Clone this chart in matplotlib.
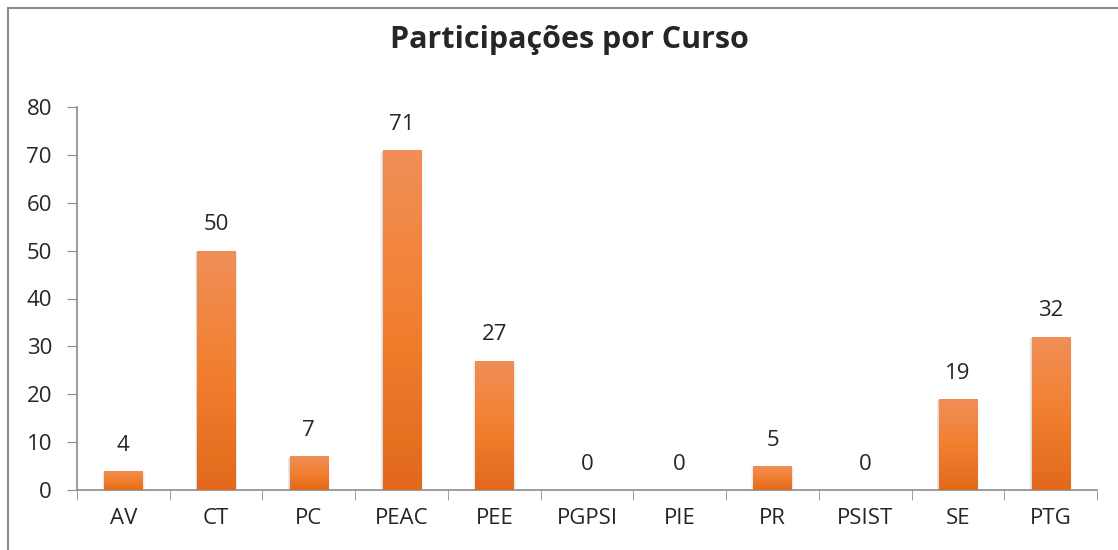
import numpy as np
import matplotlib.pyplot as plt
from matplotlib.colors import LinearSegmentedColormap
from matplotlib.patches import Rectangle

# Data
cursos = ["AV", "CT", "PC", "PEAC", "PEE", "PGPSI", "PIE", "PR", "PSIST", "SE", "PTG"]
participacoes = [4, 50, 7, 71, 27, 0, 0, 5, 0, 19, 32]
y_ticks = [0, 10, 20, 30, 40, 50, 60, 70, 80]

plt.rcParams['font.family'] = ['Open Sans', 'DejaVu Sans']

fig = plt.figure(figsize=(11.18, 5.5), dpi=100)
W, H = 1118, 550
ax = fig.add_axes([77 / W, (H - 490) / H, (1097 - 77) / W, (490 - 107) / H])

# orange vertical gradient (light top, darker bottom)
grad = LinearSegmentedColormap.from_list("orange", ["#e2691b", "#f27f2f", "#f08f58"])
gimg = np.linspace(0, 1, 256).reshape(-1, 1)

x = np.arange(len(cursos))
bw = 0.41
bars = ax.bar(x, participacoes, width=bw, color="none", zorder=3)
for xi, b, v in zip(x, bars, participacoes):
    if v <= 0:
        continue
    # soft shadow on the sides
    for k, a in enumerate([0.08, 0.05, 0.03]):
        sh = Rectangle((xi - bw / 2 - 0.008 * (k + 1), 0), bw + 0.016 * (k + 1), v - 0.3,
                       facecolor="black", alpha=a, edgecolor="none", zorder=2)
        ax.add_patch(sh)
    im = ax.imshow(gimg, cmap=grad, aspect="auto", origin="lower",
                   extent=[xi - bw / 2, xi + bw / 2, 0, v], zorder=3)
    im.set_clip_path(b)

for xi, v in zip(x, participacoes):
    ax.text(xi, v + 3.2, str(v), ha="center", va="bottom", fontsize=16, color="#262626")

ax.set_xlim(-0.5, len(cursos) - 0.5)
ax.set_ylim(0, 80)
ax.set_yticks(y_ticks)
ax.set_xticks(x)
ax.set_xticklabels(cursos)
ax.set_xticks(np.arange(-0.5, len(cursos)), minor=True)
ax.tick_params(axis="x", which="major", length=0, pad=13, labelsize=16, labelcolor="#262626")
ax.tick_params(axis="x", which="minor", length=7, color="#8c8c8c", direction="out")
ax.tick_params(axis="y", length=7, color="#8c8c8c", labelsize=16, labelcolor="#262626", pad=11)
for s in ["top", "right"]:
    ax.spines[s].set_visible(False)
ax.spines["left"].set_color("#8c8c8c")
ax.spines["bottom"].set_color("#8c8c8c")
ax.spines["left"].set_linewidth(1.2)
ax.spines["bottom"].set_linewidth(1.2)

fig.text(569 / W, 1 - 40 / H, "Participações por Curso", ha="center", va="center",
         fontsize=22, fontweight="bold", color="#262626")

# outer chart border (left and top visible)
fig.add_artist(plt.Line2D([8 / W, 8 / W], [0, 1 - 8 / H], transform=fig.transFigure,
                          color="#8c8c8c", lw=1.5))
fig.add_artist(plt.Line2D([8 / W, 1], [1 - 8 / H, 1 - 8 / H], transform=fig.transFigure,
                          color="#8c8c8c", lw=1.5))

fig.savefig("out.png", dpi=100)
